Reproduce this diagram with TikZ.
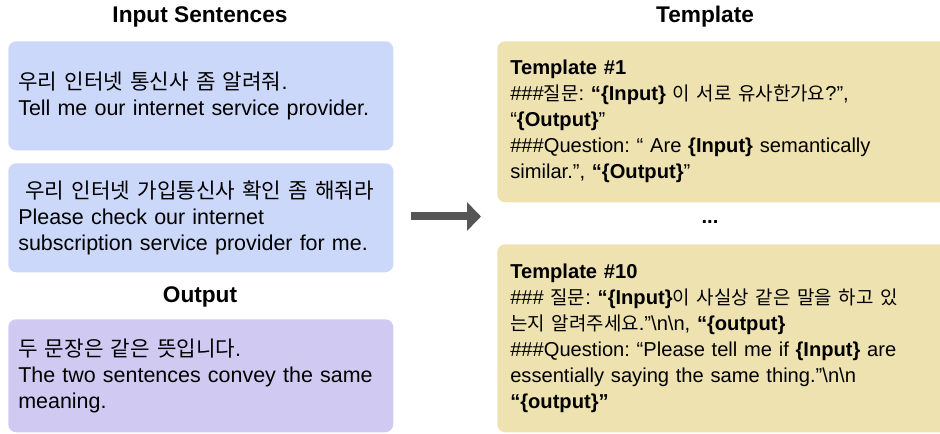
\documentclass[tikz,border=0pt]{standalone}
\usepackage{fontspec}
\setmainfont{Liberation Sans}
\newfontfamily\krfont[Scale=0.99]{Noto Sans CJK KR}
\newfontfamily\krsmall[Scale=0.94]{Noto Sans CJK KR}
\newcommand{\ko}[1]{{\krfont #1}}
\newcommand{\kt}[1]{{\krsmall #1}}
\newcommand{\nn}{\textbackslash n\textbackslash n}
\usetikzlibrary{arrows.meta}
\definecolor{inblue}{RGB}{204,216,250}
\definecolor{outpurple}{RGB}{208,202,242}
\definecolor{tplyellow}{RGB}{238,226,176}
\definecolor{arrowgray}{RGB}{85,85,85}
\frenchspacing
\tikzset{
  title/.style={font=\fontsize{17}{20}\selectfont\bfseries},
  sentbox/.style={rounded corners=6pt,anchor=north west,inner xsep=7.5pt,inner ysep=0pt,
    text width=273.75pt,minimum height=#1,align=left,
    font=\fontsize{16.1}{19.5}\selectfont},
  tplbox/.style={rounded corners=6pt,fill=tplyellow,anchor=north west,inner xsep=9.75pt,inner ysep=0pt,
    text width=325.5pt,minimum height=#1,align=left,
    font=\fontsize{15.1}{19.5}\selectfont}
}
\begin{document}
\begin{tikzpicture}[x=0.75pt,y=-0.75pt]
  \useasboundingbox (0,0) rectangle (940,434);
  \clip (0,0) rectangle (940,434);
  % left column
  \node[title] (inT) at (200,17) {Input Sentences};
  \node[sentbox=81.75pt,fill=inblue] (in1) at (8,41)
    {\ko{우리 인터넷 통신사 좀 알려줘}.\\Tell me our internet service provider.};
  \node[sentbox=81.75pt,fill=inblue] (in2) at (8,163)
    {\ \ko{우리 인터넷 가입통신사 확인 좀 해줘라}\\Please check our internet\\subscription service provider for me.};
  \node[title] (outT) at (200,297) {Output};
  \node[sentbox=84.75pt,fill=outpurple] (out) at (8,319)
    {\ko{두 문장은 같은 뜻입니다}.\\The two sentences convey the same\\meaning.};
  % arrow
  \coordinate (arrS) at (411,216.5);
  \coordinate (arrE) at (481,216.5);
  \draw[arrowgray,line width=6pt,-{Triangle[length=10.5pt,width=21pt]}] (arrS)--(arrE);
  % right column
  \node[title] (tplT) at (705,17) {Template};
  \node[tplbox=120.75pt] (tpl1) at (497,41)
    {\textbf{Template \#1}\\
     \#\#\#\kt{질문}: \textbf{“\{Input\}} \kt{이 서로 유사한가요}?”,\\
     “\textbf{\{Output\}}”\\
     \#\#\#Question: “ Are \textbf{\{Input\}} semantically\\
     similar.”, \textbf{“\{Output\}}”};
  \node[font=\fontsize{15.1}{19.5}\selectfont\bfseries] (dots) at (710,222) {...};
  \node[tplbox=141pt] (tpl10) at (497,244)
    {\textbf{Template \#10}\\
     \#\#\# \kt{질문}: \textbf{“\{Input\}}\kt{이 사실상 같은 말을 하고 있}\\
     \kt{는지 알려주세요}.”\nn, \textbf{“\{output\}}\\
     \#\#\#Question: “Please tell me if \textbf{\{Input\}} are\\
     essentially saying the same thing.”\nn\\
     \textbf{“\{output\}”}};
\end{tikzpicture}
\end{document}
